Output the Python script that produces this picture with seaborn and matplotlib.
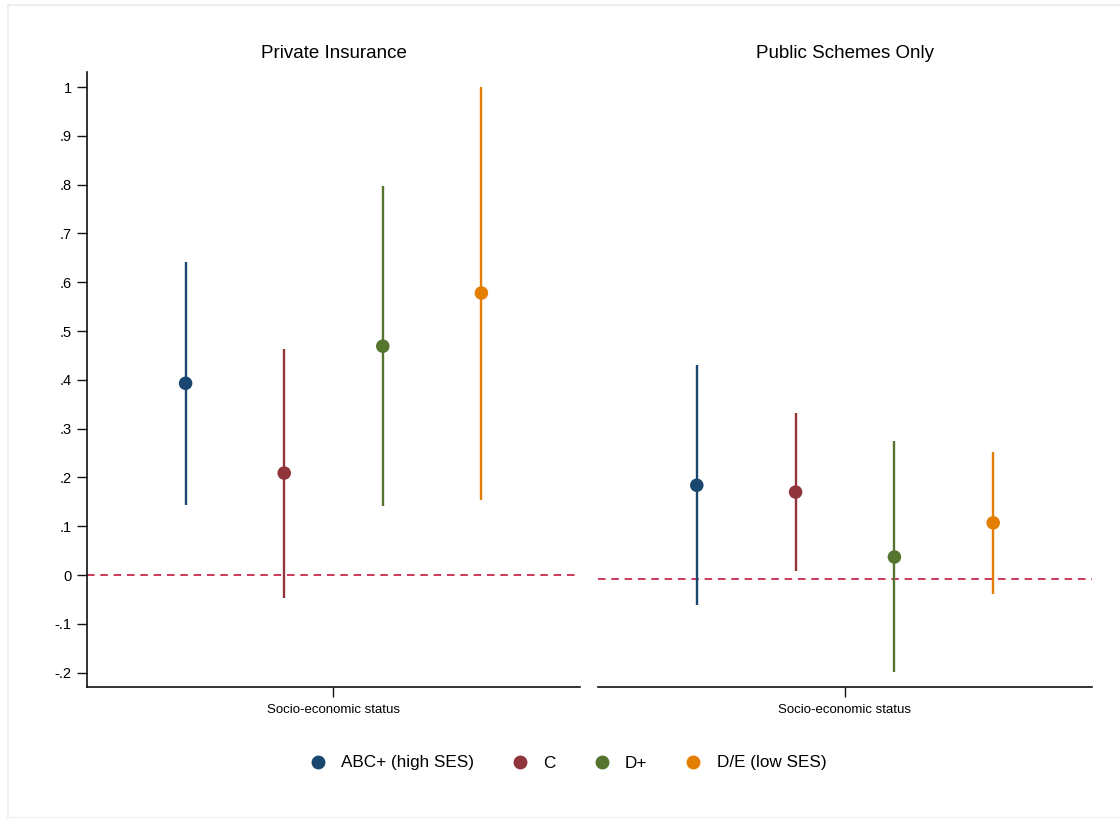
import matplotlib
matplotlib.use("Agg")
import matplotlib.pyplot as plt
import seaborn as sns
import pandas as pd
from matplotlib.patches import Rectangle

sns.set_theme(style="white")
plt.rcParams["font.family"] = ["Liberation Sans", "DejaVu Sans"]
plt.rcParams["text.color"] = "black"
plt.rcParams["axes.labelcolor"] = "black"
plt.rcParams["xtick.color"] = "black"
plt.rcParams["ytick.color"] = "black"

groups = ["ABC+ (high SES)", "C", "D+", "D/E (low SES)"]
colors = ["#1a476f", "#90353b", "#55752f", "#e37e00"]
panels = ["Private Insurance", "Public Schemes Only"]

priv_est = [0.393, 0.209, 0.469, 0.578]
priv_lo = [0.143, -0.047, 0.141, 0.154]
priv_hi = [0.641, 0.463, 0.797, 1.001]

pub_est = [0.192, 0.178, 0.045, 0.115]
pub_lo = [-0.053, 0.016, -0.191, -0.031]
pub_hi = [0.438, 0.340, 0.283, 0.260]

ytick_vals = [-0.2, -0.1, 0, 0.1, 0.2, 0.3, 0.4, 0.5, 0.6, 0.7, 0.8, 0.9, 1]
ytick_labels = ["-.2", "-.1", "0", ".1", ".2", ".3", ".4", ".5", ".6", ".7", ".8", ".9", "1"]

fig = plt.figure(figsize=(11.2, 8.18), dpi=100)
fig.patches.append(Rectangle((8 / 1120, 0), 1.2, 1 - 5 / 818, transform=fig.transFigure,
                             fill=False, edgecolor="#e6ecf0", linewidth=1.2, zorder=0))

axL = fig.add_axes([87 / 1120, 1 - 687 / 818, 493 / 1120, 615 / 818])
axR = fig.add_axes([598 / 1120, 1 - 687 / 818, 494 / 1120, 615 / 818])

data = [
    (axL, priv_est, priv_lo, priv_hi, (-0.2295, 1.031)),
    (axR, pub_est, pub_lo, pub_hi, (-0.2215, 1.039)),
]

for i, (ax, est, lo, hi, ylim) in enumerate(data):
    xs = [1, 2, 3, 4]
    df = pd.DataFrame({"x": xs, "est": est, "lo": lo, "hi": hi, "group": groups})
    ax.axhline(0, color="#c8173c", linestyle=(0, (4.5, 3.5)), linewidth=1.2, zorder=1)
    for j, row in df.iterrows():
        ax.vlines(row["x"], row["lo"], row["hi"], color=colors[j], linewidth=1.7, zorder=2)
    sns.scatterplot(data=df, x="x", y="est", hue="group", palette=colors,
                    hue_order=groups, s=95, edgecolor="none", ax=ax, zorder=3, legend=False)
    ax.set_xlim(0, 5)
    ax.set_ylim(*ylim)
    ax.set_xticks([2.5])
    ax.set_xticklabels([""])
    ax.set_xlabel("Socio-economic status", fontsize=9.5, labelpad=2, color="black")
    ax.set_ylabel("")
    ax.set_title(panels[i], fontsize=13.5, pad=10, color="black")
    ax.tick_params(axis="x", direction="out", length=7, width=1, color="#111111", bottom=True)
    for s in ["top", "right"]:
        ax.spines[s].set_visible(False)
    ax.spines["bottom"].set_color("#111111")
    ax.spines["bottom"].set_linewidth(1.2)
    if i == 0:
        ax.set_yticks(ytick_vals)
        ax.set_yticklabels(ytick_labels, fontsize=10.5, color="black")
        ax.tick_params(axis="y", direction="out", length=7, width=1, color="#111111", left=True, pad=4)
        ax.spines["left"].set_color("#111111")
        ax.spines["left"].set_linewidth(1.2)
    else:
        ax.set_yticks([])
        ax.spines["left"].set_visible(False)
    ax.set_facecolor("white")

handles = [plt.Line2D([], [], marker="o", linestyle="", markersize=10,
                      markerfacecolor=c, markeredgecolor="none") for c in colors]
fig.legend(handles, groups, loc="center", bbox_to_anchor=(0.507, 1 - 763 / 818), ncol=4,
           frameon=False, fontsize=12.3, columnspacing=2.2, handletextpad=0.85,
           handlelength=1.0, labelcolor="black")

fig.savefig("out.png", dpi=100, facecolor="white")
